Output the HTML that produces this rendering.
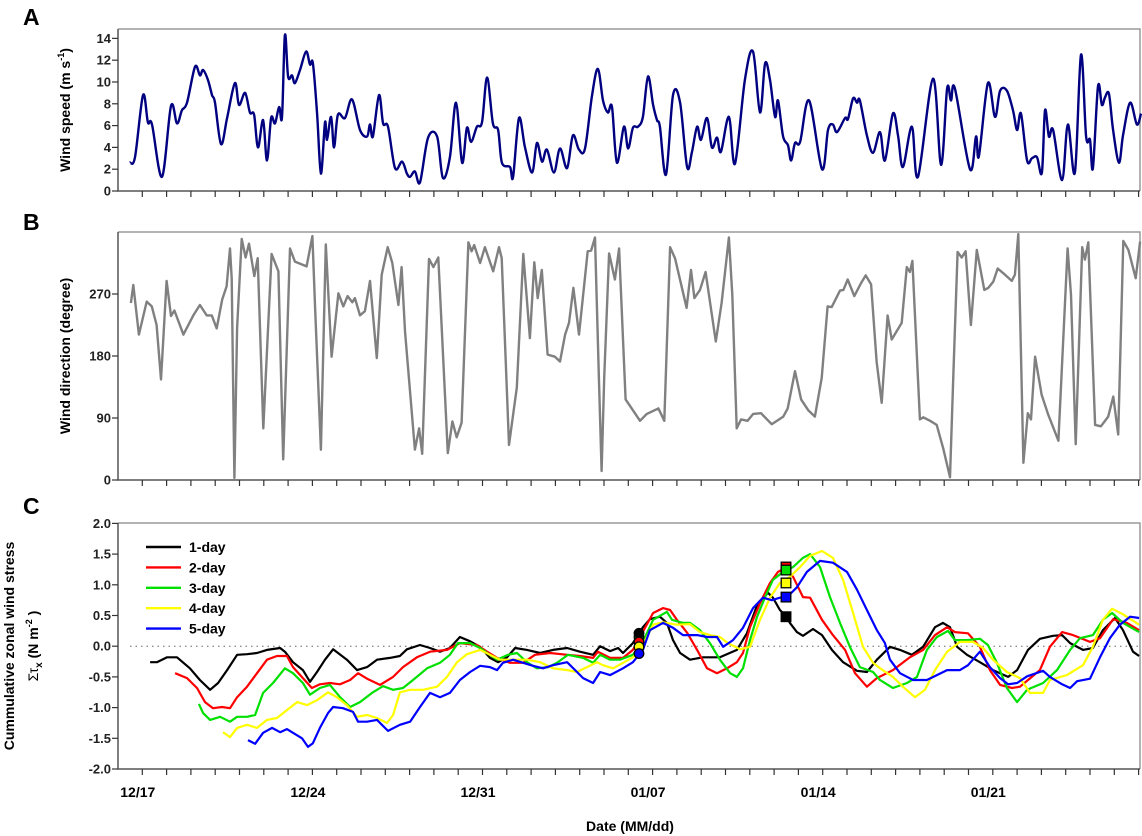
<!DOCTYPE html>
<html><head><meta charset="utf-8"><style>
html,body{margin:0;padding:0;background:#fff;}
svg{display:block;font-family:"Liberation Sans",Arial,sans-serif;font-weight:bold;}
</style></head><body>
<svg id="chart" width="1142" height="836" viewBox="0 0 1142 836" xmlns="http://www.w3.org/2000/svg"></svg>
<script>
// ---------- Panel A: wind speed ----------
const speedDays = [0.49,0.70,1.03,1.23,1.40,1.81,2.18,2.43,2.63,2.84,3.17,3.37,3.50,3.70,3.87,3.99,4.24,4.49,4.81,4.98,5.23,5.43,5.60,5.76,5.97,6.13,6.30,6.46,6.63,6.75,6.87,7.00,7.16,7.28,7.49,7.74,7.90,8.02,8.19,8.35,8.52,8.60,8.77,8.89,9.05,9.34,9.63,9.96,10.25,10.37,10.49,10.74,10.91,11.11,11.40,
11.69,11.89,12.02,12.22,12.43,12.76,13.13,13.37,13.66,13.91,14.16,14.36,14.53,14.77,14.98,15.19,15.43,15.64,15.80,16.13,16.26,16.50,16.75,17.04,17.24,17.45,17.65,17.94,18.19,18.48,18.72,18.97,19.22,19.51,19.75,19.96,20.16,20.33,20.53,20.82,20.99,21.19,21.40,21.60,21.81,22.02,22.18,22.30,22.55,22.84,23.13,23.42,23.62,23.83,23.99,24.24,24.44,24.65,24.81,25.14,25.39,25.80,26.13,
26.42,26.63,26.83,27.04,27.16,27.37,27.57,27.70,27.86,28.07,28.44,28.97,29.22,29.42,29.59,29.92,30.04,30.25,30.41,30.53,30.82,31.07,31.36,31.56,31.89,32.10,32.30,32.67,32.92,33.54,33.87,34.12,34.28,34.44,35.06,35.31,35.43,35.80,36.09,36.30,36.58,36.83,37.00,37.16,37.41,37.61,37.82,38.02,38.15,38.31,38.48,38.85,39.09,39.38,39.63,39.84,40.00,40.12,40.33,40.49,40.62,40.78,40.95,41.19,41.36,41.65,41.93,42.10];
const speedValues = [2.6,3.1,8.8,6.3,6.1,1.3,7.8,6.2,7.4,8.1,11.4,10.6,11.1,10.2,8.8,8.1,4.3,6.7,9.9,7.9,9.0,7.2,7.0,4.0,6.5,2.8,6.7,6.2,7.7,6.8,14.3,10.5,10.6,9.9,11.1,12.8,11.6,11.7,7.2,1.6,6.3,4.7,6.8,4.0,7.0,6.7,8.4,5.6,5.0,6.1,5.0,8.8,6.2,5.9,2.1,
2.7,1.6,1.3,1.8,0.8,4.9,5.0,1.2,3.1,8.1,2.6,5.8,4.5,5.9,6.3,10.4,6.2,5.6,2.6,2.2,1.3,6.7,4.0,1.7,4.4,2.7,3.8,1.7,3.9,2.1,5.1,3.8,3.9,8.8,11.2,8.3,7.2,7.7,2.6,5.9,3.9,5.8,5.9,6.8,10.5,7.9,6.5,5.9,1.5,8.8,8.1,2.2,3.6,5.9,4.7,6.7,4.0,4.9,3.6,6.8,2.5,10.2,12.8,
7.2,11.7,10.2,6.8,8.3,5.0,4.2,2.8,4.4,4.5,8.3,2.0,5.6,6.1,5.4,6.7,6.6,8.5,8.1,8.3,5.1,3.5,5.4,2.8,7.1,5.1,2.2,5.9,1.3,10.3,2.4,9.4,8.3,9.4,2.0,5.0,3.2,9.9,6.8,9.2,9.2,7.4,5.6,7.1,2.8,3.0,3.1,1.7,7.4,5.0,5.6,1.0,6.1,1.7,12.5,5.0,4.7,2.1,9.6,7.9,8.6,8.9,5.6,2.6,5.1,8.1,6.1,7.1];
const speedTicks = [0,2,4,6,8,10,12,14];

// ---------- Panel B: wind direction ----------
const dirDays = [0.53,0.63,0.86,1.18,1.39,1.59,1.77,2.00,2.18,2.32,2.69,3.10,3.37,3.65,3.86,4.06,4.29,4.47,4.61,4.68,4.79,4.90,5.09,5.25,5.39,5.61,5.75,5.98,6.32,6.60,6.80,7.08,7.28,7.76,8.00,8.11,8.35,8.55,8.79,9.07,9.27,9.45,9.64,9.75,9.96,10.16,10.37,10.65,10.85,11.10,11.29,11.54,11.67,11.81,12.22,12.39,12.52,12.80,12.98,13.18,13.57,13.76,13.94,
14.14,14.42,14.55,14.66,14.90,15.10,15.44,15.68,15.79,16.09,16.41,16.68,16.95,17.13,17.27,17.44,17.68,17.98,18.19,18.40,18.56,18.74,18.97,19.33,19.47,19.63,19.79,19.90,20.01,20.21,20.45,20.62,20.89,21.14,21.48,21.76,22.24,22.48,22.72,22.92,23.40,23.58,23.72,23.95,24.18,24.60,24.84,25.14,25.28,25.46,25.64,25.91,26.14,26.46,26.90,27.38,27.56,27.86,
28.11,28.41,28.68,28.96,29.20,29.37,29.71,29.85,30.03,30.30,30.58,30.77,30.99,31.22,31.43,31.67,31.84,32.25,32.46,32.59,32.69,33.00,33.14,33.42,33.69,33.96,34.24,34.38,34.55,34.72,34.88,35.10,35.34,35.65,35.82,36.02,36.20,36.50,36.78,36.91,37.05,37.26,37.44,37.57,37.74,38.01,38.28,38.70,39.08,39.22,39.41,39.68,39.79,39.93,40.21,40.45,40.75,40.96,41.16,41.37,41.58,41.88,42.06];
const dirValues = [257,283,211,259,252,225,146,289,238,246,211,239,254,239,239,220,262,281,336,293,3,221,350,323,343,296,322,75,328,303,30,336,317,310,354,250,44,342,179,271,252,267,258,264,239,245,289,177,298,338,315,254,309,216,44,75,38,321,309,323,39,85,62,
83,345,332,341,315,338,303,338,322,51,134,328,206,316,264,305,182,179,172,211,228,279,211,332,333,352,148,13,148,329,291,336,117,104,86,96,104,86,338,322,250,305,264,276,302,201,257,352,269,75,88,86,96,97,81,92,104,158,
117,101,92,148,252,251,275,276,291,267,286,297,284,172,112,239,204,228,309,302,318,88,91,86,80,46,4,155,331,323,332,225,334,276,279,288,307,298,289,298,357,25,97,88,179,124,95,57,336,269,52,338,320,345,80,78,92,121,66,347,334,293,346];
const dirTicks = [0,90,180,270];

// ---------- Panel C: cumulative zonal wind stress ----------
const d1Days = [1.32,1.60,2.02,2.43,2.96,3.37,3.79,4.12,4.49,4.90,5.31,5.72,6.13,6.67,6.87,7.20,7.61,7.90,8.19,8.52,8.85,9.42,9.84,10.25,10.66,11.19,11.60,11.89,12.43,12.84,13.25,13.66,14.07,14.49,14.90,15.31,15.64,16.01,16.34,16.83,17.37,17.90,18.48,19.01,19.55,19.84,20.25,20.58,20.78,21.19,21.60,21.89,22.30,22.59,22.84,23.13,23.54,24.07,24.77,25.47,25.88,26.30,26.75,26.95,27.24,27.49,27.65,27.94,28.19,28.60,28.97,29.38,29.84,30.41,30.82,31.23,31.77,32.18,32.67,33.13,33.62,33.95,34.24,34.53,34.94,35.47,36.01,36.63,37.00,37.45,37.94,38.48,38.85,39.18,39.71,40.12,40.53,41.03,41.36,41.77,42.02];
const d1Values = [-0.26,-0.26,-0.18,-0.18,-0.36,-0.55,-0.71,-0.60,-0.39,-0.14,-0.13,-0.11,-0.06,-0.03,-0.09,-0.26,-0.39,-0.58,-0.42,-0.22,-0.05,-0.22,-0.39,-0.34,-0.22,-0.19,-0.16,-0.05,0.02,-0.03,-0.09,-0.03,0.15,0.08,-0.01,-0.19,-0.26,-0.18,-0.03,-0.06,-0.11,-0.06,-0.03,-0.09,-0.14,0.00,-0.08,-0.03,-0.11,0.05,0.31,0.44,0.48,0.38,0.10,-0.11,-0.22,-0.18,-0.18,-0.06,0.21,0.67,0.87,0.79,0.59,0.49,0.38,0.23,0.17,0.28,0.18,-0.06,-0.26,-0.40,-0.42,-0.22,-0.01,-0.06,-0.14,-0.01,0.31,0.38,0.31,-0.01,-0.14,-0.26,-0.39,-0.50,-0.39,-0.06,0.12,0.17,0.18,0.05,-0.06,-0.03,0.26,0.46,0.26,-0.09,-0.16];
const d2Days = [2.35,2.84,3.25,3.58,3.91,4.28,4.61,4.90,5.31,5.72,6.13,6.54,6.95,7.20,7.61,7.98,8.31,8.72,9.14,9.55,9.88,10.25,10.78,11.32,11.73,12.30,12.84,13.54,14.07,14.77,15.19,15.60,16.13,16.67,17.16,17.78,18.48,19.01,19.55,19.75,20.25,20.78,21.19,21.48,22.02,22.43,22.72,23.00,23.42,23.83,24.24,24.65,25.06,25.47,25.72,26.01,26.42,26.83,27.16,27.45,27.78,28.19,28.48,28.97,29.42,29.92,30.33,30.82,31.23,31.89,32.59,33.13,33.62,34.12,34.44,34.98,35.47,35.88,36.30,36.79,37.12,37.45,37.94,38.35,38.85,39.30,40.00,40.41,40.95,41.52,42.02];
const d2Values = [-0.44,-0.52,-0.68,-0.91,-1.01,-0.99,-1.01,-0.83,-0.66,-0.44,-0.22,-0.16,-0.16,-0.34,-0.52,-0.68,-0.62,-0.60,-0.62,-0.55,-0.44,-0.53,-0.63,-0.50,-0.34,-0.18,-0.09,-0.06,0.05,0.02,-0.09,-0.19,-0.27,-0.27,-0.14,-0.11,-0.14,-0.16,-0.19,-0.09,-0.19,-0.19,-0.06,0.15,0.54,0.62,0.59,0.43,0.22,-0.06,-0.36,-0.44,-0.36,-0.26,-0.11,0.31,0.70,1.03,1.21,1.27,1.13,0.80,0.79,0.43,0.18,-0.06,-0.44,-0.66,-0.52,-0.39,-0.18,-0.06,0.18,0.31,0.23,0.21,-0.01,-0.39,-0.63,-0.68,-0.66,-0.55,-0.39,-0.01,0.23,0.18,0.07,0.13,0.44,0.38,0.26];
const d3Days = [3.33,3.50,3.79,4.20,4.61,4.90,5.31,5.64,5.97,6.38,6.87,7.20,7.61,7.90,8.31,8.72,9.14,9.55,9.96,10.49,10.91,11.32,11.73,12.14,12.72,13.25,13.66,13.99,14.49,14.90,15.19,15.60,16.05,16.42,16.83,17.24,17.70,18.07,18.52,19.14,19.55,19.84,20.25,20.66,21.19,21.60,22.02,22.59,22.80,23.25,23.54,23.95,24.36,24.77,25.19,25.47,25.72,26.01,26.30,26.63,26.95,27.37,27.78,28.19,28.48,28.89,29.30,29.71,30.12,30.53,31.07,31.36,31.89,32.47,32.88,33.29,33.70,34.16,34.44,34.94,35.47,35.80,36.17,36.58,37.00,37.41,38.07,38.64,39.18,39.59,40.12,40.53,40.91,41.36,42.02];
const d3Values = [-0.94,-1.09,-1.20,-1.15,-1.23,-1.15,-1.15,-1.12,-0.76,-0.60,-0.36,-0.44,-0.60,-0.79,-0.68,-0.63,-0.83,-0.99,-0.91,-0.75,-0.65,-0.71,-0.68,-0.55,-0.36,-0.27,-0.14,0.05,0.05,-0.03,-0.11,-0.22,-0.14,-0.11,-0.26,-0.36,-0.34,-0.27,-0.14,-0.19,-0.27,-0.14,-0.22,-0.22,-0.14,0.07,0.43,0.56,0.43,0.38,0.38,0.26,0.05,-0.22,-0.44,-0.50,-0.36,0.10,0.48,0.80,1.08,1.21,1.29,1.44,1.50,1.29,0.80,0.38,-0.01,-0.34,-0.42,-0.55,-0.68,-0.60,-0.50,-0.06,0.15,0.25,0.10,0.10,0.12,0.02,-0.27,-0.68,-0.91,-0.71,-0.60,-0.39,-0.06,0.13,0.18,0.43,0.54,0.38,0.23];
const d4Days = [4.32,4.61,4.90,5.31,5.72,6.13,6.54,6.95,7.37,7.78,8.19,8.64,9.01,9.42,9.84,10.25,10.66,11.07,11.32,11.60,12.02,12.55,13.13,13.54,13.95,14.36,14.90,15.31,15.72,16.26,16.83,17.37,17.90,18.48,18.89,19.30,19.71,19.96,20.37,20.78,21.19,21.60,22.02,22.43,23.00,23.54,23.95,24.36,24.77,25.10,25.60,26.01,26.42,26.83,27.24,27.65,28.07,28.48,28.97,29.42,29.84,30.25,30.66,31.07,31.36,31.89,32.30,32.80,33.21,33.62,34.12,34.65,35.19,35.60,36.01,36.58,37.12,37.53,38.07,38.35,39.05,39.71,40.12,40.53,40.91,41.36,42.02];
const d4Values = [-1.40,-1.48,-1.33,-1.28,-1.33,-1.20,-1.17,-1.04,-0.91,-0.96,-0.88,-0.75,-0.83,-0.96,-1.15,-1.12,-1.17,-1.25,-1.12,-0.75,-0.71,-0.71,-0.66,-0.50,-0.26,-0.13,-0.06,-0.14,-0.22,-0.22,-0.22,-0.26,-0.36,-0.39,-0.42,-0.34,-0.26,-0.31,-0.36,-0.27,-0.18,0.02,0.35,0.39,0.35,0.36,0.23,0.18,0.15,0.05,-0.05,-0.01,0.43,0.79,1.03,1.13,1.29,1.47,1.55,1.44,1.08,0.54,-0.01,-0.27,-0.36,-0.50,-0.66,-0.83,-0.71,-0.39,-0.09,0.07,0.07,-0.03,-0.22,-0.42,-0.52,-0.76,-0.76,-0.55,-0.47,-0.31,-0.01,0.43,0.61,0.52,0.35];
const d5Days = [5.35,5.64,5.97,6.34,6.67,6.95,7.20,7.57,7.82,8.02,8.31,8.64,8.85,9.26,9.67,9.88,10.25,10.66,11.11,11.60,12.02,12.43,12.84,13.25,13.66,14.07,14.49,14.90,15.31,15.60,15.84,16.26,16.67,17.08,17.49,17.90,18.48,18.89,19.14,19.55,19.84,20.25,20.78,21.19,21.60,21.89,22.43,22.84,23.25,23.83,24.24,24.65,24.90,25.31,25.72,26.13,26.54,26.91,27.24,27.53,27.94,28.35,28.89,29.42,30.00,30.41,30.82,31.23,31.56,31.77,32.18,32.72,33.29,33.70,34.12,34.65,34.98,35.47,35.88,36.30,36.63,37.00,37.41,38.07,38.35,38.85,39.18,39.47,40.00,40.41,40.82,41.23,41.65,42.02];
const d5Values = [-1.53,-1.59,-1.41,-1.33,-1.40,-1.35,-1.41,-1.50,-1.64,-1.58,-1.33,-1.09,-0.99,-1.01,-1.07,-1.23,-1.23,-1.20,-1.38,-1.28,-1.23,-0.99,-0.76,-0.83,-0.76,-0.55,-0.42,-0.32,-0.34,-0.39,-0.27,-0.22,-0.27,-0.32,-0.36,-0.31,-0.26,-0.42,-0.52,-0.60,-0.42,-0.47,-0.36,-0.26,-0.06,0.26,0.38,0.30,0.18,0.18,0.15,0.15,-0.01,0.10,0.30,0.62,0.79,0.75,0.79,0.80,0.96,1.21,1.39,1.36,1.21,0.92,0.59,0.26,0.05,-0.22,-0.44,-0.55,-0.55,-0.47,-0.39,-0.39,-0.31,-0.09,-0.34,-0.52,-0.62,-0.60,-0.49,-0.40,-0.50,-0.62,-0.68,-0.57,-0.53,-0.18,0.13,0.35,0.48,0.46];
const seriesNames = ["1-day","2-day","3-day","4-day","5-day"];
const circleDay = 21.44;
const circleValues = [0.21,0.07,0.15,-0.01,-0.12];
const squareDay = 27.49;
const squareValues = [0.48,1.29,1.24,1.03,0.80];
const stressTicks = ["2.0","1.5","1.0","0.5","0.0","-0.5","-1.0","-1.5","-2.0"];
const dateTicks = [1,8,15,22,29,36];
const dateLabels = ["12/17","12/24","12/31","01/07","01/14","01/21"];

// ---------- scales ----------
const X0 = 118, X1 = 1140, PX_PER_DAY = 24.3;
const xs = d => X0 + d * PX_PER_DAY;
const A = {top:29, bottom:191, max:14.86};
const B = {top:232, bottom:480, max:360};
const C = {top:523, bottom:769, zero:646.2, ppu:61.4};
const yA = v => A.bottom - v * (A.bottom - A.top) / A.max;
const yB = v => B.bottom - v * (B.bottom - B.top) / B.max;
const yC = v => C.zero - v * C.ppu;
const colors = ["#000000","#ff0000","#00e000","#ffff00","#0000ff"];

const svg = document.getElementById('chart');
const NS = 'http://www.w3.org/2000/svg';
function mk(tag, attrs, parent){
  const e = document.createElementNS(NS, tag);
  for (const k in attrs) e.setAttribute(k, attrs[k]);
  (parent || svg).appendChild(e);
  return e;
}
function linePath(days, vals, y){
  return days.map((d,i)=>(i?'L':'M')+xs(d).toFixed(1)+' '+y(vals[i]).toFixed(1)).join(' ');
}
function smoothPath(days, vals, y){
  const p = days.map((d,i)=>[xs(d), y(vals[i])]);
  let s = 'M'+p[0][0].toFixed(1)+' '+p[0][1].toFixed(1);
  for (let i=0;i<p.length-1;i++){
    const p0=p[Math.max(0,i-1)], p1=p[i], p2=p[i+1], p3=p[Math.min(p.length-1,i+2)];
    const c1=[p1[0]+(p2[0]-p0[0])/6, p1[1]+(p2[1]-p0[1])/6];
    const c2=[p2[0]-(p3[0]-p1[0])/6, p2[1]-(p3[1]-p1[1])/6];
    s+=' C'+c1[0].toFixed(1)+' '+c1[1].toFixed(1)+' '+c2[0].toFixed(1)+' '+c2[1].toFixed(1)+' '+p2[0].toFixed(1)+' '+p2[1].toFixed(1);
  }
  return s;
}
function frame(P, name){
  const g = mk('g', {});
  
  
  const t = mk('path', {d:`M${X0} ${P.top} H${X1} V${P.bottom}`, fill:'none', stroke:'#9a9a9a', 'stroke-width':1.5}, g);
  
  
  const ax = mk('path', {d:`M${X0} ${P.top} V${P.bottom} H${X1}`, fill:'none', stroke:'#555', 'stroke-width':1.5}, g);
  
  
  for (let d=1; xs(d)<X1; d++){
    const tk = mk('line', {x1:xs(d), x2:xs(d), y1:P.bottom, y2:P.bottom+6, stroke:'#333', 'stroke-width':1.2}, g);
    
    
  }
}
function yTick(y, label, name){
  const l = mk('line', {x1:X0-6, x2:X0, y1:y, y2:y, stroke:'#333', 'stroke-width':1.2});
  
  
  const t = mk('text', {x:X0-7, y:y+4.5, 'text-anchor':'end', 'font-size':13, fill:'#222'});
  t.textContent = label;
  
  
}
function panelLetter(txt, x, y){
  const t = mk('text', {x:x, y:y, 'font-size':23, fill:'#000'});
  t.textContent = txt;
  
  
}

// Panel A
panelLetter('A', 23, 25);
frame(A, 'speed');
speedTicks.forEach(v => yTick(yA(v), String(v), 'speed'));
const ptA = mk('path', {d:smoothPath(speedDays, speedValues, yA), fill:'none', stroke:'#000080', 'stroke-width':2.4, 'stroke-linejoin':'round'});


const tA = mk('text', {transform:'translate(70,110) rotate(-90)', 'text-anchor':'middle', 'font-size':14, fill:'#000'});
tA.innerHTML = 'Wind speed (m s<tspan dy="-6" font-size="9">-1</tspan><tspan dy="6">)</tspan>';



// Panel B
panelLetter('B', 23, 230);
frame(B, 'direction');
dirTicks.forEach(v => yTick(yB(v), String(v), 'direction'));
const ptB = mk('path', {d:linePath(dirDays, dirValues, yB), fill:'none', stroke:'#808080', 'stroke-width':2.4, 'stroke-linejoin':'round'});


const tB = mk('text', {transform:'translate(70,356) rotate(-90)', 'text-anchor':'middle', 'font-size':14, fill:'#000'});
tB.textContent = 'Wind direction (degree)';



// Panel C
panelLetter('C', 23, 514);
frame(C, 'stress');
stressTicks.forEach(s => yTick(yC(parseFloat(s)), s, 'stress'));
const zl = mk('line', {x1:130, x2:X1, y1:yC(0), y2:yC(0), stroke:'#666', 'stroke-width':1, 'stroke-dasharray':'1.5 4'});


const seriesDays = [d1Days,d2Days,d3Days,d4Days,d5Days];
const seriesVals = [d1Values,d2Values,d3Values,d4Values,d5Values];
seriesDays.forEach((days,i)=>{
  const p = mk('path', {d:linePath(days, seriesVals[i], yC), fill:'none', stroke:colors[i], 'stroke-width':2.2, 'stroke-linejoin':'round'});
  
  
});
[2,0,1,3,4].forEach(i=>{
  const c = mk('circle', {cx:xs(circleDay), cy:yC(circleValues[i]), r:4.8, fill:colors[i], stroke:'#000', 'stroke-width':1.3});
  
  
});
[0,1,2,3,4].forEach(i=>{
  const r = mk('rect', {x:xs(squareDay)-4.8, y:yC(squareValues[i])-4.8, width:9.6, height:9.6, fill:colors[i], stroke:'#000', 'stroke-width':1.3});
  
  
});
seriesNames.forEach((n,i)=>{
  const y = 547 + i*20.4;
  const l = mk('line', {x1:146, x2:181, y1:y, y2:y, stroke:colors[i], 'stroke-width':2.4});
  
  
  const t = mk('text', {x:189, y:y+5, 'font-size':14, fill:'#000'});
  t.textContent = n;
  
  
});
dateTicks.forEach((d,i)=>{
  const t = mk('text', {x:xs(d)-4.5, y:797, 'text-anchor':'middle', 'font-size':14, fill:'#000'});
  t.textContent = dateLabels[i];
  
  
});
const tX = mk('text', {x:630, y:831, 'text-anchor':'middle', 'font-size':14, fill:'#000'});
tX.textContent = 'Date (MM/dd)';


const tC1 = mk('text', {transform:'translate(14,646) rotate(-90)', 'text-anchor':'middle', 'font-size':14, fill:'#000'});
tC1.textContent = 'Cummulative zonal wind stress';


const tC2 = mk('text', {transform:'translate(38,646) rotate(-90)', 'text-anchor':'middle', 'font-size':14, fill:'#000'});
tC2.innerHTML = '<tspan font-weight="normal">Στ</tspan><tspan dy="4" font-size="10">x</tspan><tspan dy="-4"> (N m</tspan><tspan dy="-6" font-size="9">-2</tspan><tspan dy="6"> )</tspan>';


</script>
</body></html>
